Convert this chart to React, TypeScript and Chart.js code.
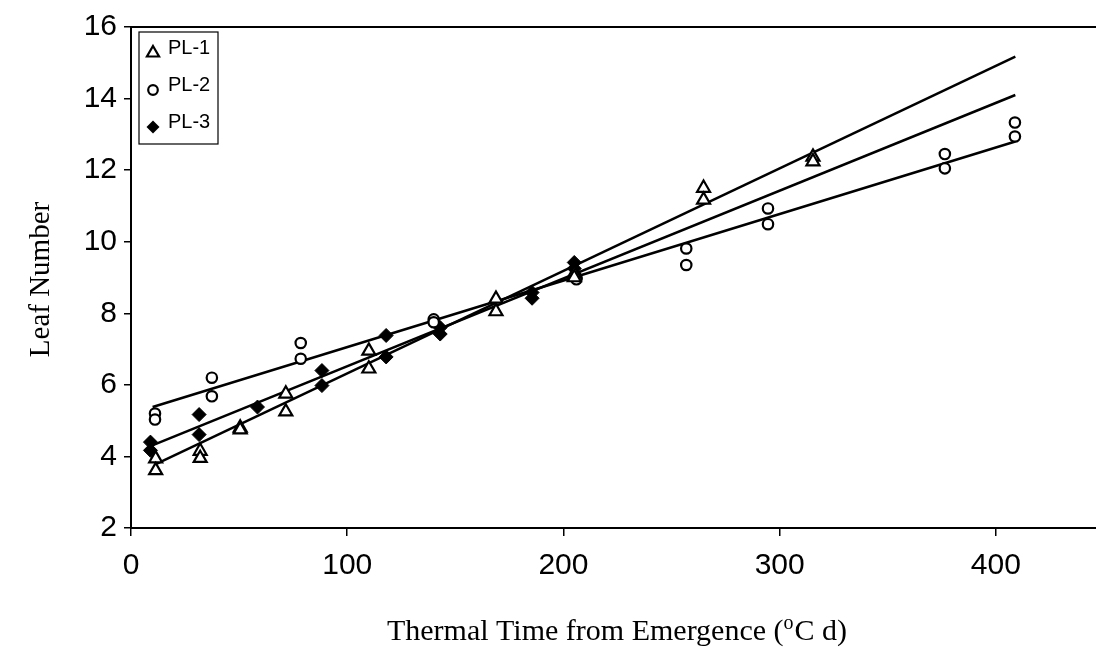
import React, { useEffect, useRef } from "react";
import { Chart, registerables } from "chart.js";

Chart.register(...registerables);

// ---- data ----
const pl1X = [11.4, 11.4, 32, 32, 50.5, 50.5, 71.6, 71.6, 110, 110, 168.8, 168.8, 205, 205, 264.8, 264.8, 315.4, 315.4];
const pl1Y = [3.94, 3.61, 4.15, 3.95, 4.8, 4.75, 5.75, 5.25, 6.95, 6.45, 8.4, 8.05, 9.1, 9.0, 11.5, 11.17, 12.37, 12.24];

const pl2X = [11.1, 11.1, 37.4, 37.4, 78.5, 78.5, 140, 140, 206, 206, 256.8, 256.8, 294.6, 294.6, 376.4, 376.4, 408.8, 408.8];
const pl2Y = [5.2, 5.03, 6.2, 5.68, 7.17, 6.73, 7.83, 7.75, 9.0, 8.95, 9.81, 9.35, 10.93, 10.49, 12.45, 12.05, 13.33, 12.94];

const pl3X = [9, 9, 31.5, 31.5, 58.5, 88.3, 88.3, 118, 118, 143, 143, 185.5, 185.5, 205, 205];
const pl3Y = [4.4, 4.17, 5.17, 4.61, 5.38, 6.4, 5.98, 7.38, 6.78, 7.6, 7.42, 8.58, 8.42, 9.42, 9.25];

// fitted regression lines (end points)
const fit1X = [12, 409];
const fit1Y = [3.8, 15.17];
const fit2X = [10, 409];
const fit2Y = [5.38, 12.8];
const fit3X = [9, 409];
const fit3Y = [4.29, 14.1];

const seriesLabels = ["PL-1", "PL-2", "PL-3"];
const xTicks = [0, 100, 200, 300, 400];
const yTicks = [2, 4, 6, 8, 10, 12, 14, 16];

const xTitleMain = "Thermal Time from Emergence (";
const xTitleSup = "o";
const xTitleEnd = "C d)";
const yTitle = "Leaf Number";

const toPts = (xs: number[], ys: number[]) => xs.map((x, i) => ({ x, y: ys[i] }));

function drawMarker(ctx: CanvasRenderingContext2D, style: string, x: number, y: number, r: number) {
  ctx.beginPath();
  if (style === "triangle") {
    ctx.moveTo(x, y - r);
    ctx.lineTo(x + r * 0.866, y + r * 0.5);
    ctx.lineTo(x - r * 0.866, y + r * 0.5);
    ctx.closePath();
  } else if (style === "circle") {
    ctx.arc(x, y, r, 0, Math.PI * 2);
  } else {
    ctx.moveTo(x, y - r);
    ctx.lineTo(x + r, y);
    ctx.lineTo(x, y + r);
    ctx.lineTo(x - r, y);
    ctx.closePath();
  }
}

const decorPlugin = {
  id: "decor",
  afterDraw(chart: any) {
    const ctx: CanvasRenderingContext2D = chart.ctx;
    const ca = chart.chartArea;
    ctx.save();
    // frame top/right
    ctx.strokeStyle = "#000";
    ctx.lineWidth = 2;
    ctx.beginPath();
    ctx.moveTo(ca.left, ca.top);
    ctx.lineTo(ca.right, ca.top);
    ctx.lineTo(ca.right, ca.bottom);
    ctx.stroke();

    // legend box
    const bx = ca.left + 8;
    const by = ca.top + 5;
    const bw = 79;
    const bh = 112;
    ctx.fillStyle = "#fff";
    ctx.fillRect(bx, by, bw, bh);
    ctx.lineWidth = 1.2;
    ctx.strokeStyle = "#000";
    ctx.strokeRect(bx, by, bw, bh);
    const sizes = [7, 4.8, 6.5];
    chart.data.datasets.slice(0, 3).forEach((ds: any, i: number) => {
      const cy = by + 19 + i * 37;
      const cx = bx + 14;
      drawMarker(ctx, ds.pointStyle, cx, cy + 2, sizes[i]);
      if (ds.pointStyle === "rectRot") {
        ctx.fillStyle = "#000";
        ctx.fill();
      } else {
        ctx.fillStyle = "#fff";
        ctx.fill();
        ctx.lineWidth = 2.2;
        ctx.strokeStyle = "#000";
        ctx.stroke();
      }
      ctx.fillStyle = "#000";
      ctx.font = "20px 'Liberation Sans', Arial, sans-serif";
      ctx.textAlign = "left";
      ctx.textBaseline = "middle";
      ctx.fillText(ds.label, bx + 29, cy - 3);
    });

    // y title
    ctx.save();
    ctx.translate(41, (ca.top + ca.bottom) / 2 + 2);
    ctx.rotate(-Math.PI / 2);
    ctx.font = "29px 'Liberation Serif', 'Times New Roman', serif";
    ctx.textAlign = "center";
    ctx.textBaseline = "middle";
    ctx.fillStyle = "#000";
    ctx.fillText(yTitle, 0, 0);
    ctx.restore();

    // x title with superscript
    const mainFont = "30px 'Liberation Serif', 'Times New Roman', serif";
    const supFont = "20px 'Liberation Serif', 'Times New Roman', serif";
    ctx.font = mainFont;
    const w1 = ctx.measureText(xTitleMain).width;
    const w3 = ctx.measureText(xTitleEnd).width;
    ctx.font = supFont;
    const w2 = ctx.measureText(xTitleSup).width + 1;
    const total = w1 + w2 + w3;
    const cx = 617;
    const base = 640;
    let x = cx - total / 2;
    ctx.textAlign = "left";
    ctx.textBaseline = "alphabetic";
    ctx.fillStyle = "#000";
    ctx.font = mainFont;
    ctx.fillText(xTitleMain, x, base);
    x += w1;
    ctx.font = supFont;
    ctx.fillText(xTitleSup, x, base - 11);
    x += w2;
    ctx.font = mainFont;
    ctx.fillText(xTitleEnd, x, base);
    ctx.restore();
  },
};

export default function App() {
  const ref = useRef<HTMLCanvasElement | null>(null);

  useEffect(() => {
    if (!ref.current) return;
    const scatterBase = {
      type: "scatter" as const,
      showLine: false,
      pointBorderColor: "#000",
      pointBorderWidth: 2.2,
    };
    const chart = new Chart(ref.current, {
      type: "scatter",
      data: {
        datasets: [
          {
            ...scatterBase,
            label: seriesLabels[0],
            data: toPts(pl1X, pl1Y),
            pointStyle: "triangle",
            pointRadius: 7.5,
            pointBackgroundColor: "#fff",
          },
          {
            ...scatterBase,
            label: seriesLabels[1],
            data: toPts(pl2X, pl2Y),
            pointStyle: "circle",
            pointRadius: 5.2,
            pointBackgroundColor: "#fff",
          },
          {
            ...scatterBase,
            label: seriesLabels[2],
            data: toPts(pl3X, pl3Y),
            pointStyle: "rectRot",
            pointRadius: 7,
            pointBorderWidth: 1,
            pointBackgroundColor: "#000",
          },
          {
            type: "line" as const,
            label: "fit1",
            data: toPts(fit1X, fit1Y),
            borderColor: "#000",
            borderWidth: 2.5,
            pointRadius: 0,
            showLine: true,
          },
          {
            type: "line" as const,
            label: "fit2",
            data: toPts(fit2X, fit2Y),
            borderColor: "#000",
            borderWidth: 2.5,
            pointRadius: 0,
            showLine: true,
          },
          {
            type: "line" as const,
            label: "fit3",
            data: toPts(fit3X, fit3Y),
            borderColor: "#000",
            borderWidth: 2.5,
            pointRadius: 0,
            showLine: true,
          },
        ] as any,
      },
      options: {
        responsive: false,
        maintainAspectRatio: false,
        animation: false,
        layout: { padding: { left: 0, top: 27, right: 26, bottom: 0 } },
        plugins: { legend: { display: false }, tooltip: { enabled: false } },
        scales: {
          x: {
            type: "linear",
            min: 0,
            max: 450,
            afterBuildTicks: (s: any) => {
              s.ticks = xTicks.map((v) => ({ value: v }));
            },
            afterFit: (s: any) => {
              s.height = 121;
            },
            grid: { display: true, drawOnChartArea: false, drawTicks: true, tickLength: 8, color: "#000", lineWidth: 1.5 },
            border: { display: true, color: "#000", width: 2 },
            ticks: {
              color: "#000",
              padding: 12,
              maxRotation: 0,
              font: { family: "'Liberation Sans', Arial, sans-serif", size: 30 },
            },
          },
          y: {
            type: "linear",
            min: 2,
            max: 16,
            afterBuildTicks: (s: any) => {
              s.ticks = yTicks.map((v) => ({ value: v }));
            },
            afterFit: (s: any) => {
              s.width = 131;
            },
            grid: { display: true, drawOnChartArea: false, drawTicks: true, tickLength: 7, color: "#000", lineWidth: 1.5 },
            border: { display: true, color: "#000", width: 2 },
            ticks: {
              color: "#000",
              padding: 7,
              font: { family: "'Liberation Sans', Arial, sans-serif", size: 30 },
            },
          },
        },
      },
      plugins: [decorPlugin],
    } as any);
    return () => chart.destroy();
  }, []);

  return (
    <div
      style={{
        position: "fixed",
        left: 0,
        top: 0,
        width: 1096,
        height: 649,
        overflow: "hidden",
        background: "#fff",
      }}
    >
      <canvas ref={ref} width={1130} height={649} style={{ width: 1130, height: 649, display: "block" }} />
    </div>
  );
}
